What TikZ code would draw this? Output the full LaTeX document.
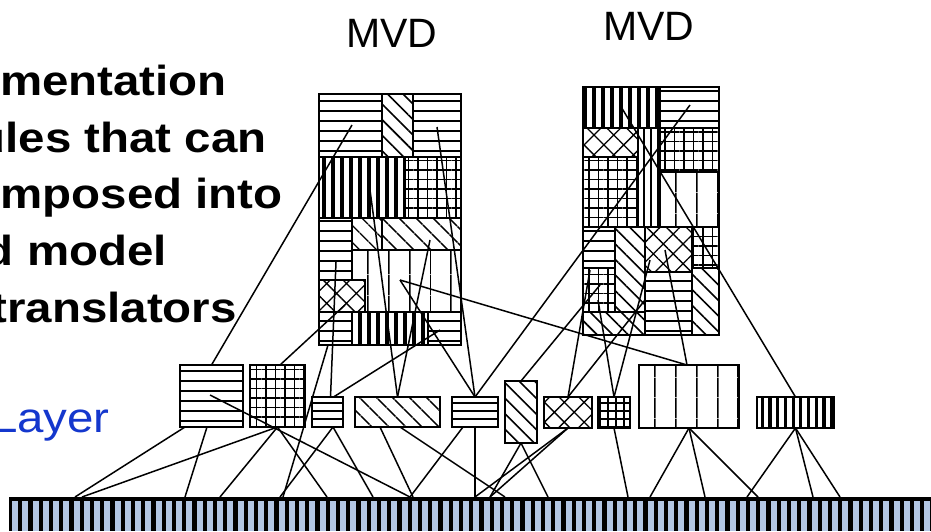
\documentclass[tikz,border=0pt]{standalone}
\usepackage{fontspec}
\setmainfont{Liberation Sans}
\newfontfamily\headfont{Liberation Sans}[FakeStretch=1.13]
\usetikzlibrary{patterns.meta}
\definecolor{layerblue}{RGB}{20,55,205}
\definecolor{barblue}{RGB}{178,198,228}
\tikzset{
  cell/.style={draw=black, line width=1.7pt},
  mvdbox/.style={draw=black, line width=2.2pt, inner sep=0pt, outer sep=0pt},
  modbox/.style={draw=black, line width=2pt, inner sep=0pt, outer sep=0pt},
  conn/.style={draw=black, line width=1.5pt},
  patH/.style={pattern={Lines[angle=0,distance=10pt,line width=1.6pt]}},
  patHs/.style={pattern={Lines[angle=0,distance=8pt,line width=1.6pt]}},
  patV/.style={pattern={Lines[angle=90,distance=20.5pt,line width=1.7pt]}},
  patVn/.style={pattern={Lines[angle=90,distance=7pt,line width=1.5pt]}},
  patVD/.style={pattern={Lines[angle=90,distance=9pt,line width=3.6pt]}},
  patVDs/.style={pattern={Lines[angle=90,distance=7.7pt,line width=3.2pt]}},
  patG/.style={pattern={Hatch[angle=0,distance=9.5pt,line width=1.5pt]}},
  patGs/.style={pattern={Hatch[angle=0,distance=8pt,line width=1.5pt]}},
  patX/.style={pattern={Hatch[angle=45,distance=14pt,line width=1.3pt]}},
  patD/.style={pattern={Lines[angle=-45,distance=11pt,line width=1.6pt]}},
  patDw/.style={pattern={Lines[angle=-45,distance=13pt,line width=1.6pt]}},
  headtxt/.style={font=\headfont\bfseries\fontsize{42}{42}\selectfont, inner sep=0pt, anchor=base east},
  mvdlabel/.style={font=\fontsize{41}{41}\selectfont, inner sep=0pt, anchor=base},
}
\begin{document}
\begin{tikzpicture}[x=1pt,y=-1pt]
\useasboundingbox (0,0) rectangle (931,531);
\clip (0,0) rectangle (931,531);

% ---------- left text ----------
\node[headtxt] (t1) at (227,95) {mentation};
\node[headtxt] (t2) at (267,152) {ules that can};
\node[headtxt] (t3) at (283,208) {mposed into};
\node[headtxt] (t4) at (167,265) {d model};
\node[headtxt] (t5) at (237,322) {translators};
\node[font=\headfont\fontsize{42}{42}\selectfont, text=layerblue, inner sep=0pt, anchor=base east] (layer) at (110,432) {Layer};

% ---------- MVD labels ----------
\node[mvdlabel] (lblA) at (392,47) {MVD};
\node[mvdlabel] (lblB) at (649,40) {MVD};

% ---------- MVD 1 cells ----------
\draw[cell,patH] (319,94) rectangle (382,157);
\draw[cell,patD] (382,94) rectangle (413,157);
\draw[cell,patH] (413,94) rectangle (461,157);
\draw[cell,patVD] (319,157) rectangle (405,218);
\draw[cell,patG] (405,157) rectangle (461,218);
\draw[cell,patH] (319,218) rectangle (352,280);
\draw[cell,patDw] (352,218) rectangle (382,250);
\draw[cell,patDw] (382,218) rectangle (461,250);
\draw[cell,patV] (352,250) rectangle (461,312);
\draw[cell,patX,preaction={fill=white}] (319,280) rectangle (365,312);
\draw[cell,patH] (319,312) rectangle (352,345);
\draw[cell,patVD] (352,312) rectangle (428,345);
\draw[cell,patH] (428,312) rectangle (461,345);
\node[mvdbox, minimum width=142pt, minimum height=251pt] (mvdA) at (390,219.5) {};

% ---------- MVD 2 cells ----------
\draw[cell,patVD] (583,87) rectangle (660,128);
\draw[cell,patH] (660,87) rectangle (719,128);
\draw[cell,patX] (583,128) rectangle (638,157);
\draw[cell,patG] (583,157) rectangle (638,227);
\draw[cell,patVn] (638,128) rectangle (660,227);
\draw[cell,patG] (660,128) rectangle (719,172);
\draw[cell,patV] (660,172) rectangle (719,227);
\draw[cell,patH] (583,227) rectangle (615,268);
\draw[cell,patG] (583,268) rectangle (615,312);
\draw[cell,patD] (615,227) rectangle (645,312);
\draw[cell,patD] (583,312) rectangle (645,335);
\draw[cell,patX] (645,227) rectangle (692,272);
\draw[cell,patH] (645,272) rectangle (692,335);
\draw[cell,patG] (692,227) rectangle (719,268);
\draw[cell,patD] (692,268) rectangle (719,335);
\node[mvdbox, minimum width=136pt, minimum height=248pt] (mvdB) at (651,211) {};

% ---------- middle modules ----------
\node[modbox, patH, minimum width=63pt, minimum height=62pt] (B1) at (211.5,396) {};
\node[modbox, patG, minimum width=55pt, minimum height=62pt] (B2) at (277.5,396) {};
\node[modbox, patHs, minimum width=31pt, minimum height=30pt] (B3) at (327.5,412) {};
\node[modbox, patDw, minimum width=85pt, minimum height=30pt] (B4) at (397.5,412) {};
\node[modbox, patHs, minimum width=46pt, minimum height=30pt] (B5) at (475,412) {};
\node[modbox, patD, minimum width=32pt, minimum height=62pt] (B6) at (521,412) {};
\node[modbox, patX, minimum width=48pt, minimum height=31pt] (B7) at (568,412.5) {};
\node[modbox, patGs, minimum width=32pt, minimum height=31pt] (B8) at (614,412.5) {};
\node[modbox, patV, minimum width=100pt, minimum height=63pt] (B9) at (689,396.5) {};
\node[modbox, patVDs, minimum width=77pt, minimum height=31pt] (B10) at (795.5,412.5) {};

% ---------- bottom bar ----------
\node[fill=black, inner sep=0pt, outer sep=0pt, minimum width=922pt, minimum height=34pt, anchor=north west] (bar) at (9,497) {};
\foreach \i in {0,...,89} \fill[barblue] ({12+\i*10.25},501) rectangle ++(6,30);

% ---------- named end points ----------
\coordinate (m1a) at (352,125);
\coordinate (m1b) at (345,305);
\coordinate (m1c) at (336,262);
\coordinate (m1d) at (440,330);
\coordinate (m1e) at (370,190);
\coordinate (m1f) at (430,240);
\coordinate (m1g) at (437,127);
\coordinate (m1h) at (400,280);
\coordinate (m1j) at (328,345);
\coordinate (m2a) at (690,105);
\coordinate (m2b) at (600,285);
\coordinate (m2c) at (590,270);
\coordinate (m2d) at (645,300);
\coordinate (m2e) at (598,300);
\coordinate (m2f) at (650,260);
\coordinate (m2g) at (665,250);
\coordinate (m2h) at (620,105);
\coordinate (b1i) at (210,395);
\foreach \x in {75,82,185,220,280,283,327,373,410,413,475,490,505,548,628,650,705,747,758,813,840}
  \coordinate (p\x) at (\x,497);

% ---------- upper connectors ----------
\draw[conn] (B1.north) -- (m1a);
\draw[conn] ([xshift=2.5pt]B2.north) -- (m1b);
\draw[conn] ([xshift=3pt]B3.north) -- (m1c);
\draw[conn] ([xshift=6pt]B3.north) -- (m1d);
\draw[conn] (B4.north) -- (m1e);
\draw[conn] (B4.north) -- (m1f);
\draw[conn] (B5.north) -- (m1g);
\draw[conn] (B5.north) -- (m1h);
\draw[conn] (B5.north) -- (m2a);
\draw[conn] (B6.north) -- (m2b);
\draw[conn] (B7.north) -- (m2c);
\draw[conn] (B7.north) -- (m2d);
\draw[conn] (B8.north) -- (m2e);
\draw[conn] (B8.north) -- (m2f);
\draw[conn] ([xshift=-2pt]B9.north) -- (m1h);
\draw[conn] ([xshift=-2pt]B9.north) -- (m2g);
\draw[conn] (B10.north) -- (m2h);
\draw[conn] (m1j) -- (p283);

% ---------- lower connectors ----------
\draw[conn] ([xshift=-26.5pt]B1.south) -- (p75);
\draw[conn] ([xshift=-4.5pt]B1.south) -- (p185);
\draw[conn] (b1i) -- (p410);
\draw[conn] (B2.south) -- (p82);
\draw[conn] (B2.south) -- (p220);
\draw[conn] (B2.south) -- (p327);
\draw[conn] ([xshift=5.5pt]B3.south) -- (p280);
\draw[conn] ([xshift=5.5pt]B3.south) -- (p373);
\draw[conn] ([xshift=2.5pt]B4.south) -- (p505);
\draw[conn] ([xshift=-17.5pt]B4.south) -- (p413);
\draw[conn] (B5.south) -- (p475);
\draw[conn] ([xshift=-12pt]B5.south) -- (p410);
\draw[conn] (B6.south) -- (p490);
\draw[conn] (B6.south) -- (p548);
\draw[conn] (B7.south) -- (p475);
\draw[conn] (B7.south) -- (p490);
\draw[conn] (B8.south) -- (p628);
\draw[conn] (B9.south) -- (p650);
\draw[conn] (B9.south) -- (p705);
\draw[conn] (B9.south) -- (p758);
\draw[conn] (B10.south) -- (p747);
\draw[conn] (B10.south) -- (p813);
\draw[conn] (B10.south) -- (p840);
\end{tikzpicture}
\end{document}
